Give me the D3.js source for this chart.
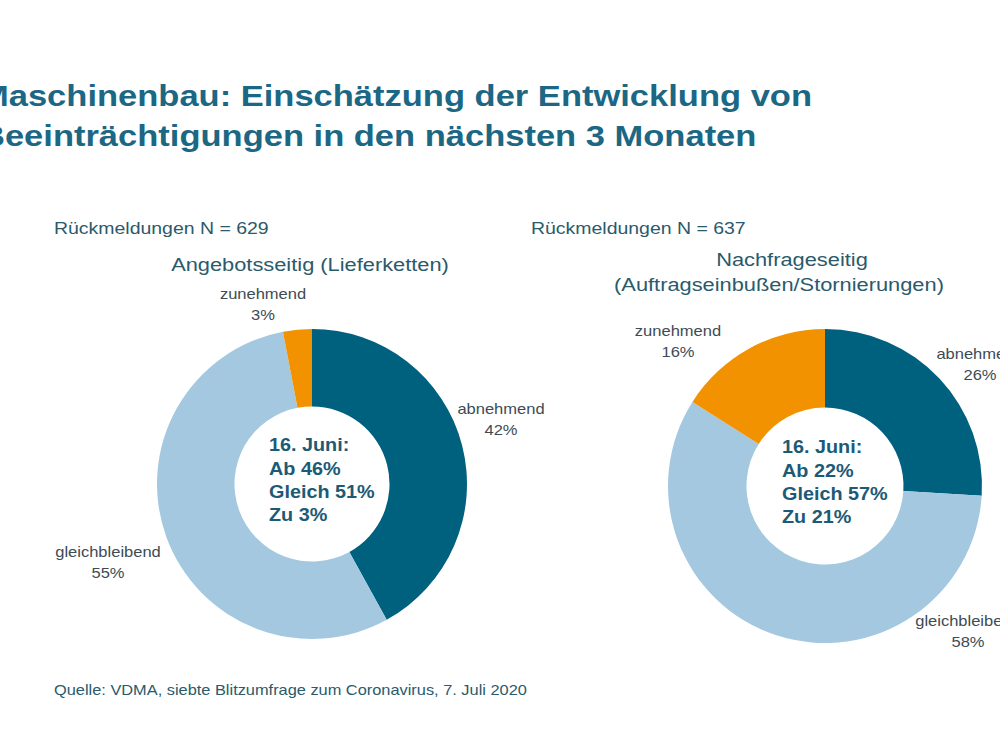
<!DOCTYPE html>
<html lang="de">
<head>
<meta charset="utf-8" />
<title>Maschinenbau Beeinträchtigungen</title>
<script src="https://cdn.jsdelivr.net/npm/d3@7"></script>
<style>
  body { margin: 0; background: #fff; }
  svg { font-family: "Liberation Sans", Arial, sans-serif; }
  .lbl { fill: #3d4b55; font-size: 14px; }
  .sub { fill: #2a5a6c; font-size: 16.5px; }
  .head { fill: #2a5a6c; font-size: 18.5px; }
  .src { fill: #2a5a6c; font-size: 14px; }
  .mid { fill: #1d5a76; font-size: 18px; font-weight: bold; }
</style>
</head>
<body>
<div id="chart"></div>
<script>
// data
var categories = ["abnehmend", "gleichbleibend", "zunehmend"];
var supplyValues = [42, 55, 3];
var demandValues = [26, 58, 16];
var supplyN = 629, demandN = 637;
var supplyJune = ["16. Juni:", "Ab 46%", "Gleich 51%", "Zu 3%"];
var demandJune = ["16. Juni:", "Ab 22%", "Gleich 57%", "Zu 21%"];

var width = 1000, height = 750;
var color = d3.scaleOrdinal()
    .domain(categories)
    .range(["#00617f", "#a3c8e0", "#f39200"]);

var svg = d3.select("#chart").append("svg")
    .attr("width", width)
    .attr("height", height);

// the slide is a bit wider than it is tall, so its text looks stretched
function stretch(text, ax, k) {
  text.attr("transform", "translate(" + ax + ",0) scale(" + k + ",1) translate(" + (-ax) + ",0)");
}

// title
var title = svg.append("text")
    .attr("fill", "#1b6784")
    .attr("font-size", 29.5)
    .attr("font-weight", "bold");
title.append("tspan").attr("x", -20).attr("y", 106)
    .text("Maschinenbau: Einschätzung der Entwicklung von");
title.append("tspan").attr("x", -20).attr("y", 146)
    .text("Beeinträchtigungen in den nächsten 3 Monaten");
stretch(title, -20, 1.17);

var pie = d3.pie().sort(null).value(function(d) { return d.v; });

function donut(cfg) {
  var g = svg.append("g").attr("transform", "translate(" + cfg.cx + "," + cfg.cy + ")");
  var arc = d3.arc().innerRadius(cfg.r * 0.5).outerRadius(cfg.r);
  var data = categories.map(function(c, i) { return {c: c, v: cfg.values[i]}; });
  var arcs = pie(data);

  g.selectAll("path")
    .data(arcs)
    .enter().append("path")
    .attr("d", arc)
    .attr("fill", function(d) { return color(d.data.c); });

  // outside labels
  arcs.forEach(function(d, i) {
    var p = cfg.labelPos[i];
    var t = g.append("text").attr("class", "lbl").attr("text-anchor", "middle");
    t.append("tspan").attr("x", p[0]).attr("y", p[1]).text(d.data.c);
    t.append("tspan").attr("x", p[0]).attr("y", p[1] + 21).text(d.data.v + "%");
    stretch(t, p[0], 1.18);
  });

  // centre text
  var m = g.append("text").attr("class", "mid");
  cfg.june.forEach(function(s, i) {
    m.append("tspan").attr("x", -43).attr("y", -33 + i * 23.5).text(s);
  });
  stretch(m, -43, 1.1);

  var n = svg.append("text").attr("class", "sub")
    .attr("x", cfg.nx).attr("y", 234)
    .text("Rückmeldungen N = " + cfg.n);
  stretch(n, cfg.nx, 1.18);

  cfg.head.forEach(function(s, i) {
    var h = svg.append("text").attr("class", "head").attr("text-anchor", "middle")
      .attr("x", cfg.hx[i]).attr("y", cfg.hy + i * 25).text(s);
    stretch(h, cfg.hx[i], 1.18);
  });
}

donut({
  cx: 312, cy: 484, r: 155,
  values: supplyValues,
  june: supplyJune,
  n: supplyN, nx: 54,
  head: ["Angebotsseitig  (Lieferketten)"], hx: [310], hy: 271,
  labelPos: [[189, -70], [-204, 73], [-49, -185]]
});

donut({
  cx: 825, cy: 486, r: 157,
  values: demandValues,
  june: demandJune,
  n: demandN, nx: 531,
  head: ["Nachfrageseitig", "(Auftragseinbußen/Stornierungen)"], hx: [792, 779], hy: 266,
  labelPos: [[155, -127], [143, 140], [-147, -150]]
});

var src = svg.append("text").attr("class", "src")
  .attr("x", 54).attr("y", 695)
  .text("Quelle: VDMA, siebte Blitzumfrage zum Coronavirus, 7. Juli 2020");
stretch(src, 54, 1.17);
</script>
</body>
</html>
